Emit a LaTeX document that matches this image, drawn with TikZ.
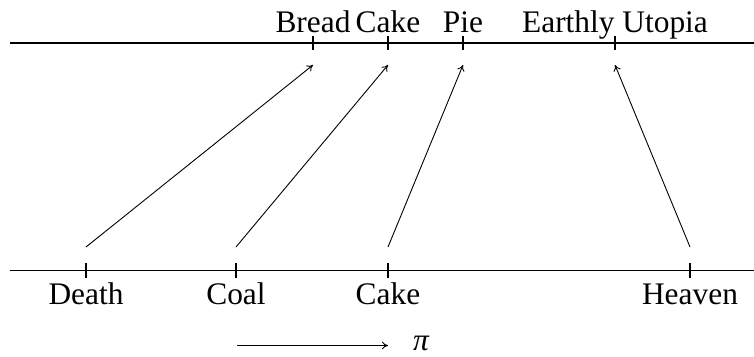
\documentclass[tikz,border=0pt]{standalone}
\usepackage{fontspec}
\setmainfont{Liberation Serif}
\usetikzlibrary{arrows.meta}
\begin{document}
\begin{tikzpicture}[x=1pt,y=-1pt,
  axis/.style={line width=1.1pt},
  tick/.style={line width=1.1pt},
  map/.style={line width=0.9pt,-{To[length=6pt,width=7.5pt]}},
  lbl/.style={anchor=base,inner sep=0pt,font=\fontsize{31.4}{36}\selectfont}]
\useasboundingbox (0,0) rectangle (754,356);
% axes
\coordinate (tl) at (10,43);
\coordinate (tr) at (754,43);
\coordinate (bl) at (10,270.5);
\coordinate (br) at (754,270.5);
\draw[axis] (tl) -- (tr);
\draw[axis] (bl) -- (br);
% top ticks and labels
\foreach \n/\x/\t in {bread/313/Bread,cake/388/Cake,pie/463/Pie,utopia/615/Earthly Utopia}{
  \coordinate (t\n) at (\x,43);
  \draw[tick] (\x,36) -- (\x,50);
  \node[lbl] (l\n) at (\x,32) {\t};
  \coordinate (a\n) at (\x,65);
}
% bottom ticks and labels
\foreach \n/\x/\t in {death/86/Death,coal/236/Coal,bcake/388/Cake,heaven/690/Heaven}{
  \coordinate (b\n) at (\x,270.5);
  \draw[tick] (\x,263) -- (\x,278);
  \node[lbl] (m\n) at (\x,304) {\t};
  \coordinate (s\n) at (\x,247);
}
% mapping arrows
\draw[map] (sdeath) -- (abread);
\draw[map] (scoal) -- (acake);
\draw[map] (sbcake) -- (apie);
\draw[map] (sheaven) -- (autopia);
% pi arrow
\coordinate (p0) at (237,345.5);
\coordinate (p1) at (388,345.5);
\draw[map] (p0) -- (p1);
\node[lbl] (pi) at (421,350) {\itshape π};
\end{tikzpicture}
\end{document}
